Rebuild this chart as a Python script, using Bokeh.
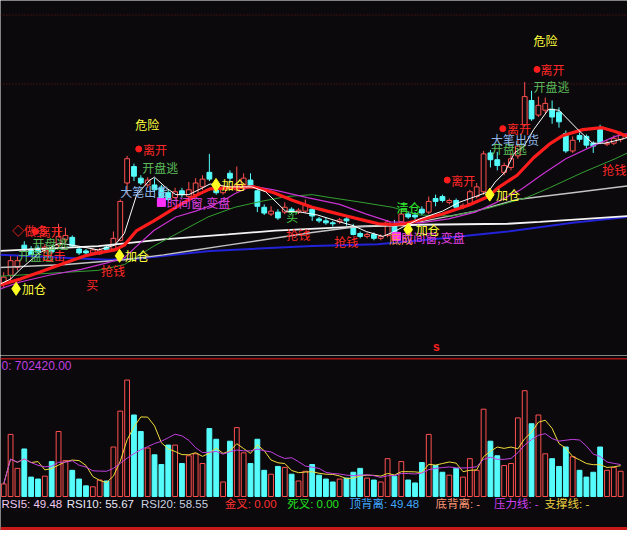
import pandas as pd
from bokeh.plotting import figure
from bokeh.models import Range1d, ColumnDataSource, Span
from bokeh.layouts import column
from bokeh.embed import file_html
from bokeh.resources import INLINE
from bokeh.core.properties import value

# ---------------- data ----------------
opens = [4.16, 4.34, 4.50, 4.96, 4.88, 4.90, 4.84, 4.90, 4.96, 5.08,
         5.12, 4.88, 4.84, 4.80, 4.78, 4.92, 4.88, 5.06, 6.24, 6.58,
         6.34, 6.20, 6.20, 6.14, 6.04, 5.94, 6.08, 5.96, 6.00, 6.16,
         6.46, 6.20, 6.04, 6.44, 6.10, 6.20, 6.30, 6.08, 5.74, 5.60,
         5.64, 5.64, 5.70, 5.64, 5.66, 5.70, 5.50, 5.46, 5.42, 5.44,
         5.50, 5.34, 5.20, 5.14, 5.18, 5.10, 5.16, 5.36, 5.44, 5.60,
         5.58, 5.70, 5.64, 5.92, 5.96, 5.84, 5.88, 5.74, 5.82, 5.96,
         6.06, 6.86, 6.72, 6.46, 6.56, 6.80, 7.44, 7.94, 7.64, 7.74,
         7.76, 7.70, 7.26, 6.90, 7.22, 7.20, 7.06, 7.34, 7.04, 7.06,
         7.14]
highs = [4.40, 4.76, 4.76, 5.04, 4.94, 4.96, 4.98, 4.96, 5.40, 5.32,
         5.16, 4.92, 4.88, 4.90, 4.90, 4.96, 5.24, 5.90, 6.80, 6.64,
         6.40, 6.36, 6.34, 6.20, 6.10, 6.14, 6.14, 6.26, 6.34, 6.40,
         6.84, 6.26, 6.20, 6.50, 6.58, 6.44, 6.44, 6.12, 5.80, 5.76,
         5.70, 5.84, 5.74, 5.72, 5.90, 5.74, 5.54, 5.52, 5.46, 5.52,
         5.54, 5.40, 5.24, 5.22, 5.22, 5.18, 5.48, 5.48, 5.68, 5.66,
         5.64, 5.76, 5.96, 6.00, 6.00, 5.92, 5.92, 5.82, 6.10, 6.24,
         6.90, 6.92, 6.88, 6.66, 6.86, 7.14, 8.32, 8.14, 8.02, 8.00,
         7.94, 7.80, 7.32, 7.20, 7.28, 7.24, 7.10, 7.44, 7.12, 7.22,
         7.30]
lows = [4.08, 4.20, 4.44, 4.82, 4.72, 4.78, 4.80, 4.78, 4.92, 5.00,
        4.92, 4.76, 4.76, 4.76, 4.76, 4.82, 4.84, 5.04, 6.00, 6.28,
        6.20, 6.14, 6.04, 5.90, 5.86, 5.90, 5.94, 5.92, 5.96, 6.10,
        6.28, 6.00, 6.00, 6.24, 6.06, 6.16, 6.16, 5.64, 5.58, 5.56,
        5.48, 5.60, 5.60, 5.60, 5.62, 5.46, 5.42, 5.38, 5.34, 5.40,
        5.36, 5.16, 5.10, 5.10, 5.06, 5.06, 5.12, 5.14, 5.40, 5.50,
        5.48, 5.58, 5.60, 5.76, 5.84, 5.80, 5.70, 5.70, 5.78, 5.92,
        6.00, 6.56, 6.50, 6.40, 6.50, 6.74, 7.40, 7.52, 7.60, 7.68,
        7.46, 7.38, 6.86, 6.86, 7.08, 6.96, 6.86, 7.04, 7.00, 7.02,
        7.08]
closes = [4.30, 4.64, 4.64, 4.86, 4.76, 4.82, 4.92, 4.82, 5.14, 5.16,
          4.94, 4.80, 4.80, 4.86, 4.86, 4.86, 5.10, 5.86, 6.74, 6.38,
          6.24, 6.30, 6.10, 5.94, 5.90, 6.06, 6.00, 6.10, 6.24, 6.32,
          6.32, 6.04, 6.12, 6.34, 6.20, 6.34, 6.18, 5.76, 5.62, 5.66,
          5.52, 5.74, 5.64, 5.68, 5.78, 5.56, 5.46, 5.42, 5.40, 5.48,
          5.46, 5.18, 5.14, 5.18, 5.10, 5.14, 5.44, 5.20, 5.60, 5.54,
          5.54, 5.62, 5.86, 5.86, 5.88, 5.88, 5.74, 5.78, 6.06, 6.16,
          6.84, 6.72, 6.60, 6.60, 6.74, 7.00, 8.02, 7.56, 7.84, 7.88,
          7.60, 7.50, 6.90, 7.12, 7.14, 7.02, 7.00, 7.08, 7.06, 7.16,
          7.24]
volumes = [351000, 1728000, 783000, 1323000, 540000, 486000, 567000, 972000, 1809000, 999000,
           729000, 486000, 297000, 270000, 459000, 432000, 1377000, 2376000, 3240000, 2268000,
           1809000, 1350000, 1161000, 891000, 1431000, 1431000, 918000, 1134000, 1188000, 918000,
           1890000, 1593000, 405000, 1539000, 1917000, 1215000, 918000, 1593000, 729000, 621000,
           837000, 810000, 621000, 432000, 702000, 891000, 594000, 486000, 405000, 486000,
           513000, 675000, 783000, 513000, 459000, 405000, 1053000, 567000, 972000, 459000,
           378000, 945000, 1728000, 864000, 675000, 594000, 783000, 540000, 1053000, 729000,
           2430000, 1539000, 1134000, 864000, 918000, 2187000, 2943000, 2025000, 2268000, 1188000,
           1053000, 837000, 1377000, 1107000, 729000, 540000, 675000, 1377000, 729000, 810000,
           702420]

# moving-average lines (bar index, price)
ma5_x = [-0.5, 1.0, 2.4, 5.2, 8.1, 10.9, 13.8, 16.2, 17.6, 19.4, 21.3, 22.0, 23.7, 25.1, 27.0,
         29.0, 30.1, 32.9, 36.2, 38.2, 41.1, 43.3, 45.8, 49.0, 51.0, 52.9, 55.3, 56.7, 58.6, 60.7,
         64.0, 66.4, 68.8, 70.7, 71.7, 73.1, 74.5, 75.9, 77.3, 79.5, 81.0, 83.9, 85.9, 87.7, 90.1, 91.0]
ma5_y = [4.16, 4.26, 4.46, 4.80, 5.00, 4.94, 4.86, 4.96, 5.20, 6.00, 6.30, 6.36, 6.14, 6.00, 6.00,
         6.14, 6.22, 6.16, 6.16, 6.06, 5.66, 5.64, 5.58, 5.44, 5.36, 5.24, 5.14, 5.22, 5.36, 5.50,
         5.66, 5.84, 5.96, 6.06, 6.26, 6.46, 6.86, 7.00, 7.34, 7.76, 7.74, 7.32, 7.06, 7.06, 7.14, 7.18]
ma10_x = [-0.5, 2.4, 5.2, 9.1, 11.9, 13.8, 16.2, 17.6, 19.4, 21.9, 25.1, 28.0, 30.1, 32.7, 36.5,
          39.4, 42.2, 45.0, 47.2, 50.0, 52.9, 54.7, 56.7, 58.6, 60.7, 64.0, 67.8, 70.7, 72.1, 74.9,
          77.3, 79.6, 81.6, 84.5, 87.3, 89.2, 91.0]
ma10_y = [4.14, 4.26, 4.40, 4.60, 4.74, 4.80, 4.86, 4.96, 5.26, 5.46, 5.74, 5.98, 6.12, 6.14, 6.16,
          6.04, 5.88, 5.74, 5.66, 5.56, 5.46, 5.40, 5.38, 5.40, 5.48, 5.60, 5.78, 5.96, 6.14, 6.40,
          6.76, 7.04, 7.22, 7.34, 7.38, 7.30, 7.20]
ma20_x = [-0.5, 2.4, 6.6, 11.3, 15.2, 17.6, 19.4, 21.9, 25.1, 28.0, 31.8, 33.7, 36.2, 39.4, 44.3,
          49.0, 52.9, 56.4, 60.7, 64.9, 68.8, 71.6, 75.4, 78.8, 82.0, 85.9, 89.2, 91.0]
ma20_y = [4.06, 4.20, 4.34, 4.46, 4.60, 4.70, 4.94, 5.26, 5.54, 5.66, 5.86, 6.02, 6.18, 6.10, 5.94,
          5.80, 5.60, 5.44, 5.42, 5.50, 5.64, 5.82, 6.10, 6.44, 6.74, 7.00, 7.20, 7.26]
ma30_x = [-0.5, 13.8, 17.6, 21.9, 26.1, 29.8, 33.7, 37.5, 41.2, 45.0, 47.6, 51.4, 56.7, 60.7, 65.4,
          70.7, 76.3, 79.6, 84.5, 89.2, 91.0]
ma30_y = [4.32, 4.44, 4.56, 4.94, 5.26, 5.54, 5.74, 5.86, 5.96, 6.00, 5.94, 5.86, 5.74, 5.58, 5.56,
          5.72, 5.94, 6.14, 6.46, 6.74, 6.86]
ma60_x = [-0.5, 9.1, 17.6, 23.3, 28.0, 32.7, 37.5, 45.0, 51.4, 56.7, 60.7, 68.8, 74.9, 83.0, 91.0]
ma60_y = [4.50, 4.56, 4.66, 4.76, 4.86, 4.96, 5.06, 5.22, 5.34, 5.38, 5.44, 5.66, 5.90, 6.04, 6.18]
ma120_x = [-0.5, 13.8, 23.3, 32.7, 39.6, 51.4, 60.7, 73.5, 78.2, 91.0]
ma120_y = [4.84, 4.94, 5.08, 5.18, 5.26, 5.34, 5.38, 5.40, 5.44, 5.56]
ma250_x = [-0.5, 15.2, 19.4, 30.1, 45.0, 54.6, 64.0, 73.5, 83.0, 91.0]
ma250_y = [4.76, 4.66, 4.68, 4.84, 4.94, 4.98, 5.10, 5.24, 5.42, 5.54]

# signal texts (bar index, price)
YEL = "#ffff3c"
SRED = "#ff2828"
SGRN = "#5cbc5c"
SBLU = "#8cb4e6"
SMAG = "#e040e0"
sig_text = ["危险", "危险", "离开", "离开", "离开", "离开", "离开", "◇做多",
            "开盘逃", "开盘逃", "开盘逃", "开盘逃", "开盘逃", "出击",
            "大笔出货", "大笔出货", "时间窗,变盘", "底成", "时间窗,变盘",
            "加仓", "加仓", "加仓", "加仓", "加仓",
            "抢钱", "抢钱", "抢钱", "抢钱", "买", "买", "清仓"]
sig_x = [19.2, 77.3, 20.3, 78.3, 73.4, 65.3, 5.1, 1.2,
         20.2, 77.3, 71.1, 4.2, 2.1, 5.5,
         17.0, 71.1, 23.8, 56.2, 58.0,
         2.66, 17.7, 31.8, 60.1, 71.8,
         14.2, 41.2, 48.2, 87.3, 12.05, 41.2, 57.3]
sig_y = [7.44, 9.18, 6.94, 8.58, 7.36, 6.30, 5.24, 5.26,
         6.56, 8.22, 6.96, 5.00, 4.74, 4.74,
         6.06, 7.14, 5.84, 5.10, 5.12,
         4.06, 4.74, 6.20, 5.28, 6.00,
         4.44, 5.18, 5.04, 6.52, 4.14, 5.54, 5.74]
sig_color = [YEL, YEL, SRED, SRED, SRED, SRED, SRED, SRED,
             SGRN, SGRN, SGRN, SGRN, SGRN, SRED,
             SBLU, SBLU, SMAG, "#ff9050", SMAG,
             YEL, YEL, YEL, YEL, YEL,
             SRED, SRED, SRED, SRED, SRED, "#48c848", "#30e830"]
add_x = [1.81, 16.9, 30.97, 59.0, 70.9]
add_y = [4.06, 4.74, 6.20, 5.28, 6.00]
leave_x = [19.7, 77.8, 72.8, 64.7, 4.65]
leave_y = [6.94, 8.58, 7.36, 6.30, 5.24]
window_x = [23.0, 57.3]
window_y = [5.84, 5.14]

# footer texts
foot_text = ["RSI5: 49.48", "RSI10: 55.67", "RSI20: 58.55", "金叉: 0.00", "死叉: 0.00",
             "顶背离: 49.48", "底背离: -", "压力线: -", "支撑线: -"]
foot_px = [0, 67, 143, 229, 293, 357, 445, 505, 557]
foot_color = ["#f0c8f0", "#e8e8f8", "#c8d0e0", "#ff3030", "#20e020",
              "#40a8ff", "#ff9878", "#d040f0", "#e8d040"]

# ---------------- style / layout ----------------
BG = "#0b090b"
RED = "#ff5050"
CYAN = "#55fcfc"
CJK = "Noto Sans CJK SC"
W, H1, H2 = 627, 355, 175
VS = 27000.0          # volume per reference pixel
BAR0, BARW = 3.3, 7.03


def rx(px):
    return (px - BAR0) / BARW


def vy(py):
    return (511 - py) * VS


n = len(closes)
idx = list(range(n))
up = [c >= o for o, c in zip(opens, closes)]
src = ColumnDataSource(dict(
    x=idx, high=highs, low=lows, vol=volumes,
    top=[max(o, c) for o, c in zip(opens, closes)],
    bot=[min(o, c) for o, c in zip(opens, closes)],
    color=[RED if u else CYAN for u in up],
    fill=[BG if u else CYAN for u in up],
    valpha=[0.0 if u else 1.0 for u in up],
))

common = dict(width=W, output_backend="svg", toolbar_location=None, min_border=0,
              background_fill_color=BG, border_fill_color=BG, outline_line_color=None,
              x_axis_location=None, y_axis_location=None)

p1 = figure(height=H1, x_range=Range1d(rx(0), rx(643)),
            y_range=Range1d(10 - 365.7 * 0.02, 10.0), **common)
p1.grid.visible = False

for lvl in (9.70, 8.28):
    p1.add_layout(Span(location=lvl, dimension="width", line_color="#6a1a20",
                       line_width=1, line_dash="1 2"))

p1.segment(x0="x", y0="high", x1="x", y1="top", line_color="color", line_width=1, source=src)
p1.segment(x0="x", y0="bot", x1="x", y1="low", line_color="color", line_width=1, source=src)
p1.vbar(x="x", width=0.7, top="top", bottom="bot", fill_color="fill",
        line_color="color", line_width=1, source=src)

p1.line(ma250_x, ma250_y, line_color="#2222d8", line_width=2)
p1.line(ma120_x, ma120_y, line_color="#f4f4f4", line_width=1.8)
p1.line(ma60_x, ma60_y, line_color="#c4c4c4", line_width=1.4)
p1.line(ma30_x, ma30_y, line_color="#34a034", line_width=1)
p1.line(ma20_x, ma20_y, line_color="#c832d2", line_width=1.2)
p1.line(ma10_x, ma10_y, line_color="#ff1c1c", line_width=3.2)
p1.line(ma5_x, ma5_y, line_color="#ffffff", line_width=1)

p1.scatter(add_x, add_y, marker="diamond", size=13, fill_color="#ffff20", line_color="#ffff20")
p1.scatter(leave_x, leave_y, marker="circle", size=6, fill_color="#ff1c1c", line_color="#ff1c1c")
p1.scatter(window_x, window_y, marker="square", size=8, fill_color="#ff30ff", line_color="#ff30ff")

sig_src = ColumnDataSource(dict(x=sig_x, y=sig_y, text=sig_text, color=sig_color))
p1.text(x="x", y="y", text="text", text_color="color", source=sig_src,
        text_font=value(CJK), text_font_size="12px", text_align="left",
        text_baseline="middle")
p1.text(x=[rx(447)], y=[2.86], text=["s"], text_color="#ff2020",
        text_font=value("Liberation Sans"), text_font_size="12px", text_font_style="bold",
        text_align="center", text_baseline="middle")

# volume panel
p2 = figure(height=H2, x_range=p1.x_range,
            y_range=Range1d(vy(546), vy(365.7)), **common)
p2.grid.visible = False
p2.add_layout(Span(location=vy(369), dimension="width", line_color="#a81414", line_width=1.5))
p2.add_layout(Span(location=vy(544), dimension="width", line_color="#c81818", line_width=3))

p2.vbar(x="x", width=0.7, top="vol", bottom=0, fill_color="color", fill_alpha="valpha",
        line_color="color", line_width=1, source=src)
vser = pd.Series(volumes, dtype=float)
p2.line(idx, list(vser.rolling(5, min_periods=1).mean()), line_color="#f0dc3c", line_width=1)
p2.line(idx, list(vser.rolling(10, min_periods=1).mean()), line_color="#c040e0", line_width=1)

p2.text(x=[rx(1)], y=[vy(377)], text=["0: 702420.00"], text_color="#c040e0",
        text_font=value("Liberation Sans"), text_font_size="12px",
        text_align="left", text_baseline="middle")
foot_src = ColumnDataSource(dict(x=[rx(v + 1) for v in foot_px], y=[vy(519)] * len(foot_px),
                                 text=foot_text, color=foot_color))
p2.text(x="x", y="y", text="text", text_color="color", source=foot_src,
        text_font=value("Liberation Sans, Noto Sans CJK SC"), text_font_size="11.5px",
        text_align="left", text_baseline="middle")

layout = column(p1, p2, spacing=0)
open("out.html", "w").write(file_html(layout, INLINE))
